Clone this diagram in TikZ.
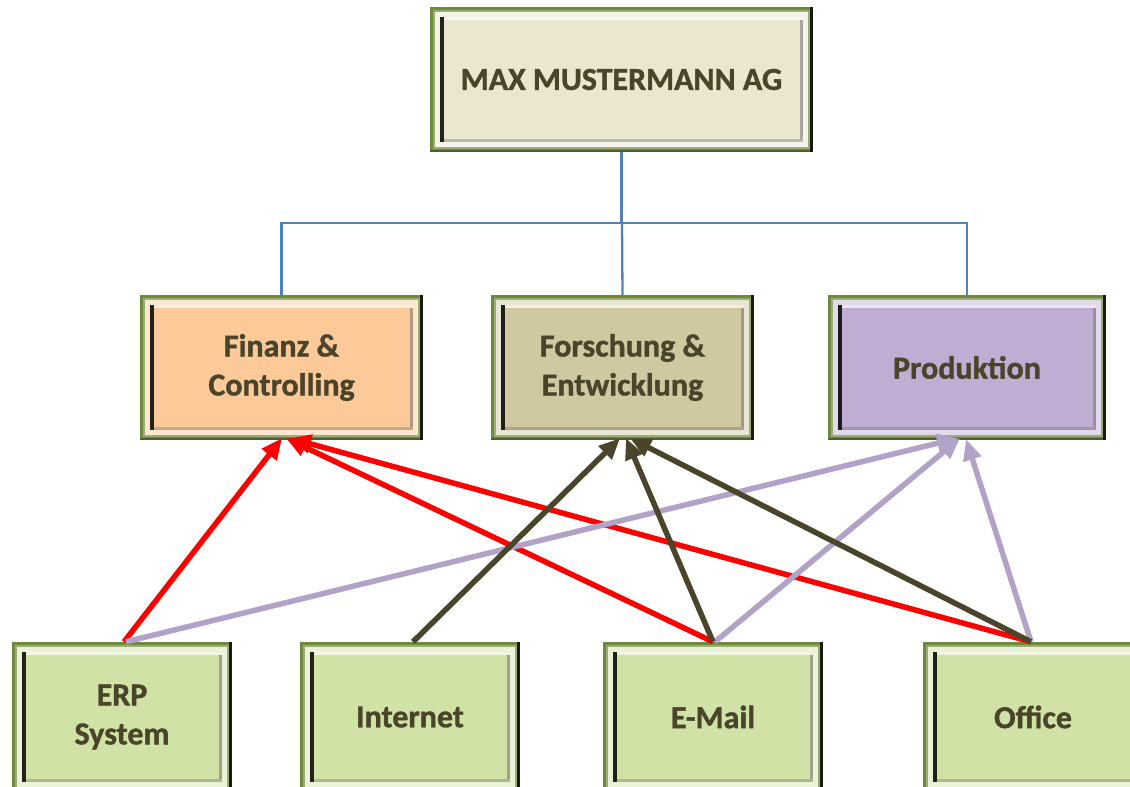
\documentclass[tikz,border=0pt]{standalone}
\usepackage{fontspec}
\setmainfont{Carlito}[BoldFeatures={FakeBold=1.2}]
\usetikzlibrary{arrows.meta}

\definecolor{txt}{HTML}{4A442A}
\definecolor{frame}{HTML}{6F8A3B}
\definecolor{orgblue}{HTML}{4F81BD}
\definecolor{linkred}{HTML}{FF0000}
\definecolor{linkdark}{HTML}{4A452A}
\definecolor{linkviolet}{HTML}{B3A2C7}
\definecolor{topfill}{HTML}{EAE6D0}
\definecolor{finfill}{HTML}{FCCA99}
\definecolor{forfill}{HTML}{D0C8A0}
\definecolor{profill}{HTML}{BFADD3}
\definecolor{sysfill}{HTML}{D1E2A7}

\tikzset{
  bevel/.style={rectangle, inner sep=0pt, fill=frame, text=txt, align=center,
    font=\fontsize{32}{39}\selectfont\bfseries,
    path picture={
      % lighter green inner rim of the frame
      \fill[frame!70!white] ([shift={(3pt,-3pt)}]path picture bounding box.north west)
        rectangle ([shift={(-3pt,3pt)}]path picture bounding box.south east);
      % light band inside the green frame
      \fill[#1!45!white] ([shift={(5pt,-5pt)}]path picture bounding box.north west)
        rectangle ([shift={(-5pt,5pt)}]path picture bounding box.south east);
      % inner bevel: right side shaded
      \fill[#1!55!black!70!white] ([shift={(10pt,-10pt)}]path picture bounding box.north west)
        rectangle ([shift={(-10pt,10pt)}]path picture bounding box.south east);
      % inner bevel: top highlight
      \fill[#1!30!white] ([shift={(10pt,-10pt)}]path picture bounding box.north west)
        rectangle ([shift={(-10pt,-13pt)}]path picture bounding box.north east);
      % inner bevel: bottom edge
      \fill[#1!75!black!85!white] ([shift={(10pt,13pt)}]path picture bounding box.south west)
        rectangle ([shift={(-10pt,10pt)}]path picture bounding box.south east);
      % inner bevel: dark left side
      \fill[black!85!#1] ([shift={(10pt,-10pt)}]path picture bounding box.north west)
        rectangle ([shift={(14pt,10pt)}]path picture bounding box.south west);
      % face
      \fill[#1] ([shift={(14pt,-13pt)}]path picture bounding box.north west)
        rectangle ([shift={(-13pt,13pt)}]path picture bounding box.south east);
      % dark outer right edge and shaded bottom edge
      \fill[frame!70!black] ([shift={(0pt,2.5pt)}]path picture bounding box.south west)
        rectangle (path picture bounding box.south east);
      \fill[black!80!frame] ([shift={(-3pt,0pt)}]path picture bounding box.north east)
        rectangle (path picture bounding box.south east);
    }},
  org/.style={draw=orgblue, line width=2.3pt},
  link/.style={line width=5.5pt, -{Triangle[length=21pt,width=18pt]}},
}

\begin{document}
\begin{tikzpicture}[x=1pt, y=-1pt]
\useasboundingbox (0,0) rectangle (1130,787);
\clip (0,0) rectangle (1130,787);

% company and departments
\node[bevel=topfill, minimum width=383pt, minimum height=145pt] (top) at (621.5,79.5) {MAX MUSTERMANN AG};
\node[bevel=finfill, minimum width=283pt, minimum height=145pt] (fin) at (281.5,367.5) {Finanz \&\\Controlling};
\node[bevel=forfill, minimum width=263pt, minimum height=145pt] (for) at (622.5,367.5) {Forschung \&\\Entwicklung};
\node[bevel=profill, minimum width=278pt, minimum height=145pt] (pro) at (967,367.5) {Produktion};

% systems
\node[bevel=sysfill, minimum width=220pt, minimum height=150pt] (erp) at (122,717) {ERP\\System};
\node[bevel=sysfill, minimum width=220pt, minimum height=150pt] (net) at (410,717) {Internet};
\node[bevel=sysfill, minimum width=220pt, minimum height=150pt] (mail) at (713,717) {E-Mail};
\node[bevel=sysfill, minimum width=220pt, minimum height=150pt] (off) at (1033,717) {Office};

% organisation chart lines
\coordinate (hub) at (622,223);
\draw[org] (top.south) -- (top.south |- hub);
\draw[org] (hub) -| (fin.north);
\draw[org] (hub) -| (pro.north);
\draw[org] (hub) -- (for.north);

% systems used by each department
\draw[link, linkred] ([xshift=2pt]erp.north) -- ([shift={(0.5pt,2pt)}]fin.south);
\draw[link, linkred] (mail.north) -- ([shift={(4.5pt,2pt)}]fin.south);
\draw[link, linkred] ([xshift=-2pt]off.north) -- ([shift={(8.5pt,2pt)}]fin.south);

\draw[link, linkviolet] ([xshift=4pt]erp.north) -- ([shift={(-9pt,2pt)}]pro.south);
\draw[link, linkviolet] ([xshift=2pt]mail.north) -- ([shift={(-7pt,2pt)}]pro.south);
\draw[link, linkviolet] ([xshift=-2pt]off.north) -- ([shift={(-1pt,1pt)}]pro.south);

\draw[link, linkdark] ([xshift=3pt]net.north) -- ([shift={(-2.5pt,2pt)}]for.south);
\draw[link, linkdark] (mail.north) -- ([shift={(3.5pt,2pt)}]for.south);
\draw[link, linkdark] ([xshift=-2pt]off.north) -- ([shift={(7.5pt,2pt)}]for.south);
\end{tikzpicture}
\end{document}
